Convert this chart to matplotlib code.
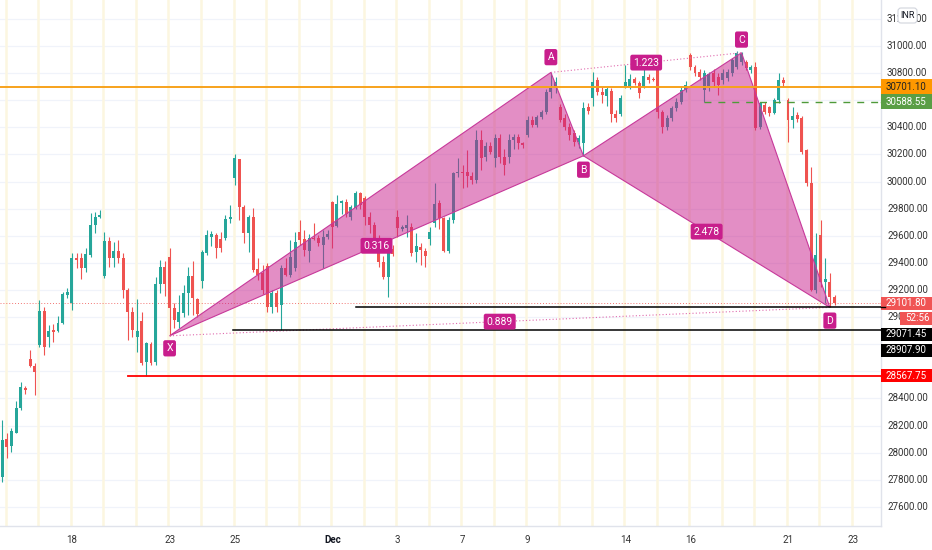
import matplotlib
matplotlib.use("Agg")
import matplotlib.pyplot as plt
import numpy as np
from matplotlib.patches import Rectangle, Polygon, FancyBboxPatch
from matplotlib.transforms import IdentityTransform

plt.rcParams['font.family'] = ['Roboto', 'DejaVu Sans']

# ---------------- data (hourly candles, index = bar number) ----------------
opens = [27819, 28100, 28049, 28145, 28329, 28475, 28690, 28640, 28794, 29044,
         28853, 28904, 28897, 28956, 29163, 29104, 29435, 29435, 29362, 29458,
         29679, 29738, 29303, 29561, 29435, 29487, 29435, 29200, 29037, 28853,
         28971, 28668, 28801, 28668, 29244, 29369, 29443, 29067, 28963, 29030,
         29178, 29303, 29133, 29266, 29472, 29590, 29605, 29575, 29583, 29723,
         30026, 30166, 29812, 29620, 29738, 29355, 29325, 29377, 29074, 29178,
         29089, 29362, 29310, 29362, 29627, 29575, 29487, 29583, 29583, 29532,
         29590, 29849, 29672, 29841, 29849, 29738, 29804, 29915, 29878, 29738,
         29679, 29568, 29406, 29296, 29502, 29738, 29650, 29657, 29664, 29480,
         29517, 29487, 29575, 29694, 29841, 29731, 29487, 29716, 30063, 30070,
         30070, 30040, 30010, 30306, 30180, 30260, 30173, 30320, 30180, 30180,
         30306, 30328, 30284, 30343, 30454, 30417, 30476, 30513, 30660, 30690,
         30550, 30469, 30400, 30357, 30290, 30284, 30550, 30620, 30750, 30660,
         30630, 30670, 30500, 30500, 30700, 30700, 30757, 30727, 30700, 30770,
         30760, 30850, 30510, 30400, 30470, 30540, 30590, 30675, 30935, 30845,
         30808, 30675, 30690, 30800, 30770, 30750, 30763, 30800, 30845, 30882,
         30880, 30820, 30845, 30400, 30565, 30550, 30505, 30601, 30750, 30601,
         30454, 30490, 30470, 30233, 29989, 29200, 29605, 29258, 29258, 29150]
highs = [28240, 28145, 28180, 28380, 28521, 28490, 28757, 28660, 29126, 29074,
         28941, 28950, 29008, 29185, 29215, 29472, 29472, 29472, 29510, 29767,
         29775, 29790, 29627, 29590, 29554, 29568, 29472, 29215, 29074, 29134,
         29037, 28816, 28816, 29296, 29420, 29413, 29509, 29104, 29163, 29237,
         29370, 29413, 29141, 29495, 29642, 29635, 29620, 29627, 29752, 29826,
         30203, 30166, 29826, 29752, 29805, 29436, 29385, 29398, 29200, 29200,
         29384, 29436, 29568, 29628, 29716, 29642, 29612, 29694, 29605, 29642,
         29642, 29856, 29900, 29864, 29870, 29826, 29930, 29925, 29890, 29775,
         29700, 29605, 29450, 29495, 29530, 29790, 29680, 29752, 29694, 29620,
         29546, 29510, 29664, 29989, 29864, 29738, 29740, 30070, 30173, 30120,
         30230, 30070, 30380, 30380, 30290, 30290, 30350, 30350, 30240, 30350,
         30350, 30350, 30290, 30480, 30480, 30490, 30530, 30680, 30805, 30770,
         30570, 30500, 30430, 30380, 30340, 30587, 30580, 30810, 30770, 30700,
         30700, 30690, 30530, 30640, 30860, 30790, 30770, 30740, 30840, 30790,
         30770, 30870, 30530, 30490, 30560, 30620, 30700, 30740, 30948, 30860,
         30830, 30823, 30810, 30830, 30800, 30830, 30830, 30910, 30960, 30955,
         30900, 30860, 30880, 30590, 30590, 30560, 30620, 30800, 30770, 30620,
         30550, 30510, 30480, 30240, 30107, 29620, 29716, 29436, 29325, 29160]
lows = [27783, 27960, 28004, 28145, 28314, 28432, 28632, 28425, 28779, 28720,
        28779, 28815, 28890, 28950, 29140, 29052, 29360, 29280, 29330, 29443,
        29620, 29730, 29288, 29369, 29369, 29400, 29140, 28830, 28853, 28742,
        28646, 28568, 28646, 28646, 29178, 29156, 28862, 28920, 28920, 29000,
        29015, 29015, 29000, 29214, 29458, 29524, 29436, 29480, 29568, 29693,
        29974, 29716, 29546, 29480, 29332, 29273, 29170, 29037, 29030, 29040,
        28908, 29300, 29296, 29340, 29532, 29450, 29406, 29568, 29524, 29362,
        29575, 29510, 29664, 29760, 29740, 29716, 29800, 29800, 29680, 29620,
        29524, 29370, 29280, 29148, 29450, 29590, 29635, 29590, 29450, 29406,
        29384, 29370, 29532, 29664, 29650, 29480, 29470, 29694, 30033, 29950,
        29960, 29980, 29990, 30085, 30150, 30200, 30110, 30140, 30050, 30140,
        30240, 30240, 30250, 30330, 30400, 30400, 30460, 30500, 30620, 30650,
        30440, 30380, 30310, 30260, 30250, 30190, 30500, 30560, 30640, 30580,
        30560, 30440, 30440, 30480, 30690, 30680, 30710, 30620, 30690, 30730,
        30740, 30470, 30360, 30380, 30450, 30520, 30570, 30660, 30823, 30780,
        30750, 30587, 30670, 30700, 30640, 30720, 30740, 30780, 30830, 30860,
        30820, 30800, 30380, 30390, 30500, 30480, 30495, 30580, 30700, 30290,
        30395, 30440, 30200, 29970, 29190, 29180, 29220, 29103, 29074, 29090]
closes = [28093, 28040, 28160, 28329, 28484, 28465, 28640, 28595, 29044, 28779,
          28897, 28890, 28956, 29170, 29185, 29435, 29420, 29362, 29465, 29679,
          29738, 29752, 29561, 29435, 29487, 29435, 29200, 29037, 28904, 28897,
          28661, 28808, 28661, 29244, 29369, 29244, 29067, 28978, 29037, 29178,
          29303, 29141, 29022, 29480, 29605, 29612, 29510, 29510, 29723, 29738,
          30173, 29812, 29620, 29738, 29347, 29310, 29200, 29074, 29178, 29074,
          29362, 29310, 29443, 29554, 29568, 29495, 29583, 29575, 29546, 29590,
          29612, 29664, 29834, 29856, 29760, 29812, 29915, 29826, 29738, 29679,
          29568, 29406, 29296, 29480, 29465, 29657, 29664, 29679, 29472, 29524,
          29495, 29450, 29627, 29834, 29731, 29487, 29716, 30063, 30070, 30060,
          30040, 30010, 30306, 30173, 30260, 30218, 30320, 30180, 30120, 30306,
          30328, 30284, 30269, 30454, 30417, 30476, 30513, 30660, 30690, 30735,
          30454, 30400, 30343, 30291, 30320, 30542, 30520, 30735, 30660, 30640,
          30680, 30500, 30470, 30616, 30735, 30757, 30727, 30653, 30780, 30750,
          30748, 30510, 30400, 30470, 30540, 30590, 30675, 30712, 30845, 30800,
          30770, 30800, 30790, 30735, 30710, 30800, 30808, 30896, 30948, 30940,
          30837, 30845, 30395, 30580, 30513, 30505, 30601, 30750, 30727, 30454,
          30484, 30460, 30218, 29989, 29200, 29458, 29258, 29280, 29148, 29101.8]

# session starts (bar index) and the date labels shown under them
day_start_bars = [1 + 7 * k for k in range(27)]
date_label_bars = [15, 36, 50, 71, 85, 99, 113, 134, 148, 169, 183]
date_labels = ["18", "23", "25", "Dec", "3", "7", "9", "14", "16", "21", "23"]

# harmonic pattern X, A, B, C, D (bar index, price)
pattern_names = ["X", "A", "B", "C", "D"]
pattern_bars = [36, 118, 125, 159, 178]
pattern_prices = [28862, 30805, 30190, 30950, 29071.45]
ratio_labels = ["0.316", "1.223", "2.478", "0.889"]

# horizontal levels: (price, start bar)
orange_level = (30701.10, -1)
green_level = (30588.55, 151)
black_levels = [(29071.45, 76), (28907.90, 49.6)]
red_level = (28567.75, 27)
last_price = 29101.80
countdown = "52:56"
grid_prices = list(range(27600, 31400, 200))
hidden_grid_labels = [30600, 28800, 28600]

# ---------------- figure ----------------
W, H = 932, 550
fig = plt.figure(figsize=(W / 100, H / 100), dpi=100)
fig.patch.set_facecolor("white")
ax = fig.add_axes([0, 24 / H, 881 / W, 526 / H])
XMIN, XMAX = -0.473, 189.0
ax.set_xlim(XMIN, XMAX)
ax.set_ylim(27459, 31339.3)
ax.set_xticks([]); ax.set_yticks([])
for s in ["top", "left"]:
    ax.spines[s].set_visible(False)
for s in ["right", "bottom"]:
    ax.spines[s].set_color("#E0E3EB")
    ax.spines[s].set_linewidth(1.0)

# grid
for p in grid_prices:
    ax.axhline(p, color="#F0F3FA", lw=0.9, zorder=0)
for b in day_start_bars:
    ax.axvline(b - 0.25, color="#FCF6E0", lw=1.8, zorder=0.5)

# candles
o = np.array(opens, float); h = np.array(highs, float)
l = np.array(lows, float); c = np.array(closes, float)
idx = np.arange(len(o))
up = c >= o
col = np.where(up, "#26A69A", "#EF5350")
ax.vlines(idx, l, h, colors=col, lw=0.8, zorder=2)
body = np.maximum(np.abs(c - o), 7.0)
ax.bar(idx, body, bottom=np.minimum(o, c), width=0.64, color=col, lw=0, zorder=3)

# horizontal levels
ax.plot([orange_level[1], XMAX], [orange_level[0]] * 2, color="#F7A21B", lw=1.4, zorder=6)
ax.plot([green_level[1], XMAX], [green_level[0]] * 2, color="#4E9A3A", lw=1.0,
        ls=(0, (5, 5)), zorder=6)
for p, s in black_levels:
    ax.plot([s, XMAX], [p, p], color="#000000", lw=1.1, zorder=6)
ax.plot([red_level[1], XMAX], [red_level[0]] * 2, color="#FF0000", lw=1.3, zorder=6)
ax.axhline(last_price, color="#EF5350", lw=0.7, ls=(0, (1, 2)), alpha=0.8, zorder=1)

# harmonic pattern
P = {n: (b, p) for n, b, p in zip(pattern_names, pattern_bars, pattern_prices)}
mag = "#C81E8C"
for tri in (("X", "A", "B"), ("B", "C", "D")):
    pts = [P[t] for t in tri]
    ax.add_patch(Polygon(pts, closed=True, facecolor=mag, alpha=0.5, edgecolor="none", zorder=4))
    ax.add_patch(Polygon(pts, closed=True, facecolor="none", edgecolor="#C7399A", lw=0.8, zorder=5))
for a, b in (("A", "C"), ("X", "D")):
    ax.plot([P[a][0], P[b][0]], [P[a][1], P[b][1]], color="#E06AAE", lw=0.8,
            ls=(0, (1, 2)), zorder=5)

def mid(a, b):
    return ((P[a][0] + P[b][0]) / 2, (P[a][1] + P[b][1]) / 2)

for txt, (a, b) in zip(ratio_labels, [("X", "B"), ("A", "C"), ("B", "D"), ("X", "D")]):
    mx, my = mid(a, b)
    ax.text(mx, my, txt, ha="center", va="center", color="white", fontsize=7.5, zorder=9,
            bbox=dict(boxstyle="round,pad=0.28,rounding_size=0.2", fc=mag, ec="none"))

offsets = {"X": -9, "A": 11, "B": -10, "C": 9.5, "D": -9.5}
for n in pattern_names:
    ax.annotate(n, xy=P[n], xytext=(0, offsets[n]), textcoords="offset points",
                ha="center", va="center", color="white", fontsize=7.5, zorder=9,
                bbox=dict(boxstyle="round,pad=0.3,rounding_size=0.2", fc=mag, ec="none"))

# ---------------- right price scale ----------------
ident = IdentityTransform()

def ypix(price):
    return ax.transData.transform((0, price))[1]

lab_col = "#333333"
for p in grid_prices:
    if p in hidden_grid_labels:
        continue
    fig.text(887 / W, ypix(p) / H, f"{p:.2f}", fontsize=7, color=lab_col,
             ha="left", va="center", zorder=5)

def tag(price, text, bg, fg, dy=0.0, x0=881, hgt=13):
    y = ypix(price) - dy
    fig.patches.append(Rectangle((x0, y - hgt / 2), W - x0, hgt, transform=ident,
                                 facecolor=bg, edgecolor="none", zorder=10, figure=fig))
    fig.text((x0 + 5) / W, y / H, text, fontsize=7, color=fg, ha="left", va="center", zorder=11)
    fig.lines.append(plt.Line2D([881, 885], [ypix(price)] * 2, transform=ident,
                                color=bg, lw=1, zorder=11, figure=fig))

tag(orange_level[0], f"{orange_level[0]:.2f}", "#FF9800", "#222222", hgt=15)
tag(green_level[0], f"{green_level[0]:.2f}", "#5A9E45", "white", hgt=15)
tag(last_price, f"{last_price:.2f}", "#F05454", "white")
tag(last_price, countdown, "#F05454", "white", dy=15, x0=900)
tag(black_levels[0][0], f"{black_levels[0][0]:.2f}", "#000000", "white", dy=27)
tag(black_levels[1][0], f"{black_levels[1][0]:.2f}", "#000000", "white", dy=20.5)
tag(red_level[0], f"{red_level[0]:.2f}", "#FF0000", "white")

# currency badge
fig.patches.append(FancyBboxPatch((898, H - 23), 19, 15, boxstyle="round,pad=0,rounding_size=3",
                                  transform=ident, facecolor="white", edgecolor="#D1D4DC",
                                  lw=0.8, zorder=12, figure=fig))
fig.text(907.5 / W, (H - 15.5) / H, "INR", fontsize=6.5, color="#131722",
         ha="center", va="center", zorder=13)

# ---------------- time scale ----------------
for b, t in zip(date_label_bars, date_labels):
    xp = ax.transData.transform((b, 0))[0]
    fig.text(xp / W, 10 / H, t, fontsize=7, color="#131722" if t == "Dec" else lab_col,
             fontweight="bold" if t == "Dec" else "normal", ha="center", va="center")

fig.savefig("out.png", dpi=100)
